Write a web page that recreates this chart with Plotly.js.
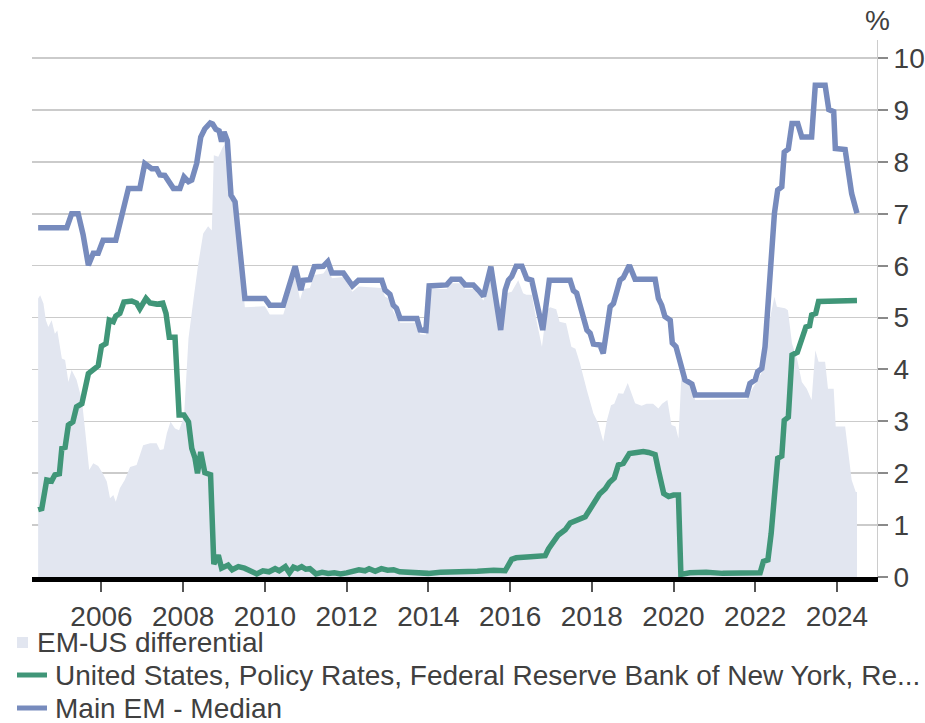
<!DOCTYPE html>
<html>
<head>
<meta charset="utf-8">
<script src="https://cdn.plot.ly/plotly-3.0.1.min.js"></script>
<style>
html,body{margin:0;padding:0;background:#fff;}
#chart{width:925px;height:723px;}
</style>
</head>
<body>
<div id="chart"></div>
<script>
// Tick labels (years)
const yearTicks = [2006, 2008, 2010, 2012, 2014, 2016, 2018, 2020, 2022, 2024];
const yTicks = [0,1,2,3,4,5,6,7,8,9,10];

// Series names
const seriesNames = [
  "EM-US differential",
  "United States, Policy Rates, Federal Reserve Bank of New York, Re...",
  "Main EM - Median"
];
const seriesColors = ["#e2e6f0", "#409678", "#778bbd"];

// EM-US differential (decimal years, %)
const diffYears = [2004.45,2004.5,2004.58,2004.64,2004.7,2004.78,2004.86,2004.92,2005.03,2005.11,2005.19,2005.27,2005.39,2005.52,2005.6,2005.7,2005.8,2005.92,2006.03,2006.13,2006.21,2006.29,2006.35,2006.45,2006.57,2006.7,2006.86,2007.02,2007.19,2007.35,2007.43,2007.52,2007.6,2007.69,2007.8,2007.9,2008.02,2008.13,2008.25,2008.37,2008.49,2008.61,2008.7,2008.75,2008.86,2008.97,2009.07,2009.15,2009.27,2009.51,2010.0,2010.12,2010.45,2010.74,2010.86,2010.94,2011.1,2011.21,2011.43,2011.54,2011.64,2011.92,2012.14,2012.29,2012.86,2012.94,2013.06,2013.14,2013.31,2013.72,2013.8,2013.94,2014.02,2014.45,2014.57,2014.78,2014.9,2015.1,2015.22,2015.35,2015.55,2015.75,2015.92,2016.04,2016.2,2016.32,2016.4,2016.53,2016.66,2016.78,2016.89,2016.98,2017.13,2017.21,2017.37,2017.5,2017.6,2017.71,2017.88,2018.04,2018.16,2018.28,2018.37,2018.47,2018.55,2018.65,2018.77,2018.88,2019.06,2019.22,2019.34,2019.5,2019.63,2019.72,2019.85,2019.95,2020.05,2020.12,2020.19,2020.3,2020.45,2020.53,2021.79,2022.0,2022.16,2022.24,2022.37,2022.47,2022.53,2022.73,2022.8,2022.9,2023.03,2023.14,2023.26,2023.38,2023.47,2023.55,2023.71,2023.78,2023.92,2023.97,2024.2,2024.36,2024.46,2024.49];
const diffVals = [5.37,5.43,5.27,4.95,4.82,4.95,4.69,4.75,4.21,4.18,3.76,3.99,3.80,3.41,2.83,2.06,2.19,2.14,2.0,1.84,1.52,1.58,1.45,1.71,1.87,2.12,2.16,2.54,2.58,2.58,2.45,2.46,2.77,2.99,2.86,2.83,3.09,4.60,5.34,6.04,6.62,6.76,6.68,8.13,8.10,8.29,8.39,7.39,7.27,5.2,5.22,5.06,5.06,5.82,5.35,5.55,5.57,5.82,5.85,5.97,5.76,5.78,5.5,5.6,5.57,5.4,5.36,5.12,4.9,4.9,4.68,4.67,5.55,5.55,5.66,5.66,5.55,5.55,5.45,5.33,5.85,4.73,5.47,5.5,5.72,5.47,5.44,5.44,4.89,4.44,5.14,5.2,5.16,4.92,4.89,4.44,4.40,4.12,3.60,3.15,2.96,2.61,3.02,3.31,3.34,3.54,3.53,3.74,3.35,3.30,3.34,3.34,3.25,3.34,3.41,2.93,2.90,2.67,3.83,3.8,3.7,3.41,3.43,3.72,3.94,4.31,5.02,5.40,5.21,5.18,5.14,4.50,4.18,3.76,3.63,3.41,4.37,4.15,4.15,3.63,3.63,2.90,2.90,1.87,1.64,1.64];

// United States policy rate (decimal years, %)
const usYears = [2004.45,2004.54,2004.66,2004.78,2004.86,2004.97,2005.03,2005.11,2005.19,2005.3,2005.39,2005.52,2005.68,2005.8,2005.92,2006.0,2006.11,2006.19,2006.29,2006.35,2006.45,2006.55,2006.74,2006.86,2006.94,2007.09,2007.19,2007.35,2007.5,2007.58,2007.66,2007.8,2007.9,2008.02,2008.13,2008.21,2008.29,2008.35,2008.43,2008.53,2008.67,2008.75,2008.86,2008.94,2009.1,2009.2,2009.35,2009.5,2009.65,2009.8,2009.95,2010.1,2010.25,2010.35,2010.5,2010.6,2010.7,2010.8,2010.9,2011.0,2011.1,2011.25,2011.4,2011.55,2011.7,2011.85,2012.0,2012.15,2012.3,2012.45,2012.55,2012.7,2012.85,2013.0,2013.15,2013.3,2013.5,2013.7,2014.0,2014.3,2014.6,2014.9,2015.2,2015.6,2015.88,2016.04,2016.15,2016.5,2016.86,2016.94,2017.05,2017.18,2017.35,2017.47,2017.84,2017.94,2018.04,2018.19,2018.33,2018.43,2018.55,2018.65,2018.77,2018.92,2019.1,2019.26,2019.39,2019.51,2019.55,2019.63,2019.76,2019.88,2020.0,2020.12,2020.18,2020.4,2020.8,2021.2,2021.6,2022.12,2022.2,2022.31,2022.39,2022.49,2022.55,2022.65,2022.71,2022.81,2022.9,2023.03,2023.14,2023.24,2023.33,2023.38,2023.48,2023.55,2024.49];
const usVals = [1.30,1.32,1.87,1.85,1.97,1.99,2.48,2.50,2.93,2.99,3.28,3.34,3.92,4.01,4.07,4.45,4.50,4.95,4.92,5.03,5.08,5.30,5.32,5.28,5.17,5.37,5.28,5.26,5.28,5.08,4.62,4.62,3.12,3.12,2.99,2.48,2.29,2.00,2.41,2.01,1.97,0.25,0.42,0.17,0.23,0.14,0.2,0.17,0.11,0.06,0.12,0.1,0.16,0.12,0.2,0.08,0.19,0.16,0.2,0.15,0.16,0.06,0.09,0.07,0.08,0.06,0.08,0.1,0.14,0.12,0.16,0.11,0.16,0.13,0.14,0.1,0.09,0.08,0.07,0.09,0.09,0.10,0.11,0.13,0.12,0.34,0.37,0.39,0.41,0.54,0.65,0.81,0.91,1.04,1.16,1.30,1.41,1.60,1.70,1.82,1.91,2.16,2.19,2.38,2.40,2.42,2.40,2.38,2.36,2.06,1.61,1.55,1.58,1.58,0.05,0.08,0.09,0.07,0.08,0.08,0.30,0.33,0.84,1.61,2.29,2.33,3.02,3.08,4.28,4.33,4.63,4.82,4.84,5.05,5.08,5.31,5.33];

// Main EM - Median (decimal years, %)
const emYears = [2004.45,2005.15,2005.27,2005.43,2005.55,2005.68,2005.8,2005.92,2006.04,2006.35,2006.66,2006.94,2007.06,2007.23,2007.35,2007.43,2007.55,2007.76,2007.92,2008.02,2008.13,2008.21,2008.33,2008.43,2008.53,2008.66,2008.72,2008.8,2008.88,2008.94,2009.0,2009.08,2009.17,2009.27,2009.51,2010.0,2010.12,2010.45,2010.74,2010.88,2010.94,2011.1,2011.21,2011.43,2011.54,2011.64,2011.92,2012.14,2012.29,2012.86,2012.94,2013.06,2013.14,2013.22,2013.31,2013.72,2013.8,2013.94,2014.02,2014.45,2014.57,2014.78,2014.9,2015.1,2015.22,2015.35,2015.53,2015.66,2015.77,2015.88,2015.96,2016.04,2016.15,2016.29,2016.41,2016.53,2016.66,2016.8,2016.96,2017.47,2017.55,2017.63,2017.88,2017.96,2018.04,2018.2,2018.28,2018.45,2018.53,2018.69,2018.77,2018.92,2019.06,2019.55,2019.63,2019.71,2019.79,2019.92,2019.97,2020.06,2020.28,2020.45,2020.53,2021.79,2021.87,2022.0,2022.06,2022.16,2022.24,2022.34,2022.42,2022.47,2022.55,2022.65,2022.71,2022.81,2022.9,2023.04,2023.14,2023.38,2023.47,2023.71,2023.8,2023.92,2023.96,2024.2,2024.36,2024.49];
const emVals = [6.73,6.73,7.0,7.0,6.6,6.01,6.24,6.24,6.49,6.49,7.49,7.49,7.97,7.87,7.87,7.75,7.74,7.49,7.49,7.71,7.62,7.65,7.97,8.48,8.64,8.75,8.73,8.63,8.60,8.39,8.58,8.41,7.36,7.23,5.37,5.37,5.24,5.24,5.99,5.53,5.72,5.73,5.98,5.99,6.08,5.86,5.86,5.61,5.72,5.72,5.53,5.45,5.24,5.18,4.98,4.98,4.76,4.75,5.61,5.63,5.74,5.74,5.63,5.63,5.53,5.41,5.98,5.21,4.76,5.53,5.72,5.79,5.99,5.99,5.75,5.72,5.21,4.76,5.72,5.72,5.52,5.47,4.76,4.70,4.49,4.47,4.31,5.21,5.27,5.72,5.77,6.01,5.74,5.74,5.37,5.24,5.02,4.95,4.51,4.44,3.80,3.72,3.51,3.51,3.73,3.80,3.96,4.02,4.44,5.47,6.62,7.01,7.46,7.52,8.19,8.25,8.74,8.74,8.48,8.48,9.48,9.48,9.01,8.97,8.26,8.24,7.39,7.01];

const FONT = "Liberation Sans, Arial, sans-serif";
const TXT = "#404040";
const FS = 28;

// plot area geometry (pixels)
const W = 925, H = 723;
const M = {l: 32, r: 48, t: 40, b: 146};
const PW = W - M.l - M.r, PH = H - M.t - M.b;
const px2x = p => (p - M.l) / PW;
const py2y = p => (H - M.b - p) / PH;

const traces = [
  {
    x: diffYears, y: diffVals, name: seriesNames[0], type: "scatter", mode: "lines",
    fill: "tozeroy", fillcolor: seriesColors[0], line: {width: 0, color: seriesColors[0]},
    showlegend: false
  },
  {
    x: usYears, y: usVals, name: seriesNames[1], type: "scatter", mode: "lines",
    line: {width: 5.5, color: seriesColors[1]}, showlegend: false
  },
  {
    x: emYears, y: emVals, name: seriesNames[2], type: "scatter", mode: "lines",
    line: {width: 5.5, color: seriesColors[2]}, showlegend: false
  }
];

// Custom legend (rows below the plot)
const legendRows = [
  {cy: 642, textX: 36},
  {cy: 675, textX: 54},
  {cy: 708, textX: 54}
];
const shapes = [
  {type: "rect", xref: "paper", yref: "paper",
   x0: px2x(17), x1: px2x(28), y0: py2y(648), y1: py2y(637),
   fillcolor: seriesColors[0], line: {width: 0}},
  {type: "line", xref: "paper", yref: "paper",
   x0: px2x(17), x1: px2x(47), y0: py2y(legendRows[1].cy), y1: py2y(legendRows[1].cy),
   line: {width: 5, color: seriesColors[1]}},
  {type: "line", xref: "paper", yref: "paper",
   x0: px2x(17), x1: px2x(47), y0: py2y(legendRows[2].cy), y1: py2y(legendRows[2].cy),
   line: {width: 5, color: seriesColors[2]}}
];
const annotations = [{
  text: "%", xref: "paper", yref: "paper", x: 1, y: 1,
  xanchor: "center", yanchor: "bottom", yshift: 2, showarrow: false,
  font: {family: FONT, size: FS, color: TXT}
}];
seriesNames.forEach((n, i) => {
  annotations.push({
    text: n, xref: "paper", yref: "paper",
    x: px2x(legendRows[i].textX), y: py2y(legendRows[i].cy),
    xanchor: "left", yanchor: "middle", showarrow: false, borderpad: 0,
    font: {family: FONT, size: FS, color: TXT}
  });
});

const layout = {
  width: W, height: H,
  margin: M,
  paper_bgcolor: "#fff", plot_bgcolor: "#fff",
  font: {family: FONT, size: FS, color: TXT},
  showlegend: false,
  xaxis: {
    type: "linear", range: [2004.30, 2024.98],
    tickmode: "array", tickvals: yearTicks, ticktext: yearTicks.map(String),
    showgrid: false, zeroline: false,
    showline: true, linecolor: "#000", linewidth: 5,
    ticks: "outside", ticklen: 10, tickwidth: 2, tickcolor: "#555",
    tickfont: {family: FONT, size: FS, color: TXT},
    automargin: false
  },
  yaxis: {
    side: "right", range: [0, 10.35],
    tickmode: "array", tickvals: yTicks,
    showgrid: true, gridcolor: "#cbcbcb", gridwidth: 1.5,
    zeroline: false,
    showline: true, linecolor: "#cccccc", linewidth: 1,
    ticks: "outside", ticklen: 10, tickwidth: 2, tickcolor: "#8a8a8a",
    tickfont: {family: FONT, size: FS, color: TXT},
    automargin: false
  },
  shapes: shapes,
  annotations: annotations
};

Plotly.newPlot("chart", traces, layout, {displayModeBar: false, staticPlot: true});
</script>
</body>
</html>
